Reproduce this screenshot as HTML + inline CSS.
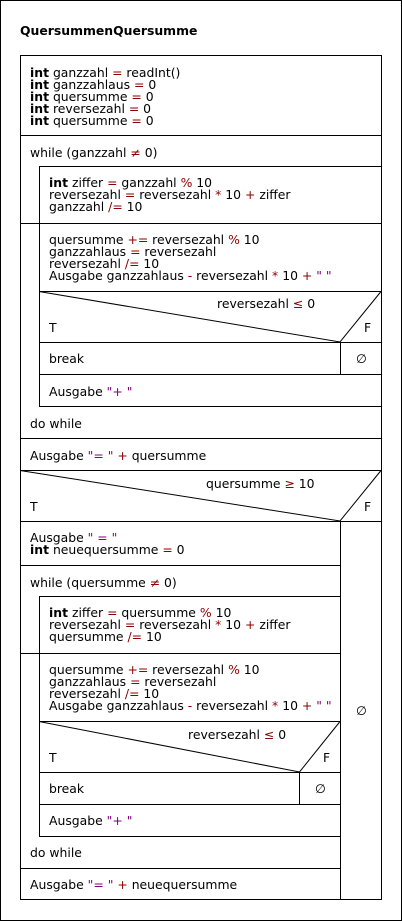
<!DOCTYPE html>
<html><head><meta charset="utf-8"><style>
html,body{margin:0;padding:0;background:#fff;}
svg{display:block;}
text{font-family:"DejaVu Sans","Liberation Sans",sans-serif;font-size:12.4px;fill:#000;}
.r{fill:#8b0000;} .p{fill:#800080;} .b{font-weight:bold;}
</style></head><body>
<svg width="402" height="921" viewBox="0 0 402 921" xmlns="http://www.w3.org/2000/svg">
<g fill="none" stroke="#000" stroke-width="1" shape-rendering="crispEdges">
<rect x="0.5" y="0.5" width="401" height="920"/>
<rect x="20.5" y="55.5" width="361" height="844"/>
<line x1="20" y1="135.5" x2="381" y2="135.5"/>
<rect x="39.5" y="166.5" width="342" height="240"/>
<line x1="20" y1="223.5" x2="381" y2="223.5"/>
<line x1="39" y1="291.5" x2="381" y2="291.5"/>
<line x1="39" y1="342.5" x2="381" y2="342.5"/>
<line x1="340.5" y1="342" x2="340.5" y2="374"/>
<line x1="39" y1="374.5" x2="381" y2="374.5"/>
<line x1="20" y1="438.5" x2="381" y2="438.5"/>
<line x1="20" y1="470.5" x2="381" y2="470.5"/>
<line x1="20" y1="521.5" x2="381" y2="521.5"/>
<line x1="340.5" y1="521" x2="340.5" y2="900"/>
<line x1="20" y1="565.5" x2="340" y2="565.5"/>
<rect x="39.5" y="596.5" width="301" height="240"/>
<line x1="20" y1="653.5" x2="340" y2="653.5"/>
<line x1="39" y1="721.5" x2="340" y2="721.5"/>
<line x1="39" y1="772.5" x2="340" y2="772.5"/>
<line x1="299.5" y1="772" x2="299.5" y2="804"/>
<line x1="39" y1="804.5" x2="340" y2="804.5"/>
<line x1="20" y1="868.5" x2="340" y2="868.5"/>
</g>
<g stroke="#000" stroke-width="1" fill="none">
<polyline points="39,291.5 340,342 381,291.5"/>
<polyline points="20,470.5 340,521 381,470.5"/>
<polyline points="39,721.5 299.5,772 340,721.5"/>
</g>
<text class="b" x="20" y="35">QuersummenQuersumme</text>

<text x="30" y="77"><tspan class="b">int</tspan> ganzzahl <tspan class="r">=</tspan> readInt()</text>
<text x="30" y="89"><tspan class="b">int</tspan> ganzzahlaus <tspan class="r">=</tspan> 0</text>
<text x="30" y="101"><tspan class="b">int</tspan> quersumme <tspan class="r">=</tspan> 0</text>
<text x="30" y="113"><tspan class="b">int</tspan> reversezahl <tspan class="r">=</tspan> 0</text>
<text x="30" y="125"><tspan class="b">int</tspan> quersumme <tspan class="r">=</tspan> 0</text>
<text x="30" y="157">while (ganzzahl <tspan class="r">≠</tspan> 0)</text>
<text x="49" y="187"><tspan class="b">int</tspan> ziffer <tspan class="r">=</tspan> ganzzahl <tspan class="r">%</tspan> 10</text>
<text x="49" y="199">reversezahl <tspan class="r">=</tspan> reversezahl <tspan class="r">*</tspan> 10 <tspan class="r">+</tspan> ziffer</text>
<text x="49" y="211">ganzzahl <tspan class="r">/=</tspan> 10</text>
<text x="49" y="244">quersumme <tspan class="r">+=</tspan> reversezahl <tspan class="r">%</tspan> 10</text>
<text x="49" y="256">ganzzahlaus <tspan class="r">=</tspan> reversezahl</text>
<text x="49" y="268">reversezahl <tspan class="r">/=</tspan> 10</text>
<text x="49" y="280">Ausgabe ganzzahlaus <tspan class="r">-</tspan> reversezahl <tspan class="r">*</tspan> 10 <tspan class="r">+</tspan> <tspan class="p">" "</tspan></text>
<text x="217" y="308">reversezahl <tspan class="r">≤</tspan> 0</text>
<text x="49" y="332">T</text><text x="364" y="332">F</text>
<text x="49" y="363">break</text><text x="356" y="363">∅</text>
<text x="49" y="396">Ausgabe <tspan class="p">"+ "</tspan></text>
<text x="30" y="428">do while</text>
<text x="30" y="460">Ausgabe <tspan class="p">"= "</tspan> <tspan class="r">+</tspan> quersumme</text>
<text x="206" y="488">quersumme <tspan class="r">≥</tspan> 10</text>
<text x="30" y="511">T</text><text x="364" y="511">F</text>
<text x="30" y="542">Ausgabe <tspan class="p">" = "</tspan></text>
<text x="30" y="554"><tspan class="b">int</tspan> neuequersumme <tspan class="r">=</tspan> 0</text>
<text x="30" y="587">while (quersumme <tspan class="r">≠</tspan> 0)</text>
<text x="49" y="617"><tspan class="b">int</tspan> ziffer <tspan class="r">=</tspan> quersumme <tspan class="r">%</tspan> 10</text>
<text x="49" y="629">reversezahl <tspan class="r">=</tspan> reversezahl <tspan class="r">*</tspan> 10 <tspan class="r">+</tspan> ziffer</text>
<text x="49" y="641">quersumme <tspan class="r">/=</tspan> 10</text>
<text x="49" y="674">quersumme <tspan class="r">+=</tspan> reversezahl <tspan class="r">%</tspan> 10</text>
<text x="49" y="686">ganzzahlaus <tspan class="r">=</tspan> reversezahl</text>
<text x="49" y="698">reversezahl <tspan class="r">/=</tspan> 10</text>
<text x="49" y="710">Ausgabe ganzzahlaus <tspan class="r">-</tspan> reversezahl <tspan class="r">*</tspan> 10 <tspan class="r">+</tspan> <tspan class="p">" "</tspan></text>
<text x="188" y="739">reversezahl <tspan class="r">≤</tspan> 0</text>
<text x="49" y="762">T</text><text x="323" y="762">F</text>
<text x="49" y="793">break</text><text x="315" y="793">∅</text>
<text x="49" y="825">Ausgabe <tspan class="p">"+ "</tspan></text>
<text x="30" y="857">do while</text>
<text x="30" y="889">Ausgabe <tspan class="p">"= "</tspan> <tspan class="r">+</tspan> neuequersumme</text>
<text x="356" y="715">∅</text>
</svg>
</body></html>
